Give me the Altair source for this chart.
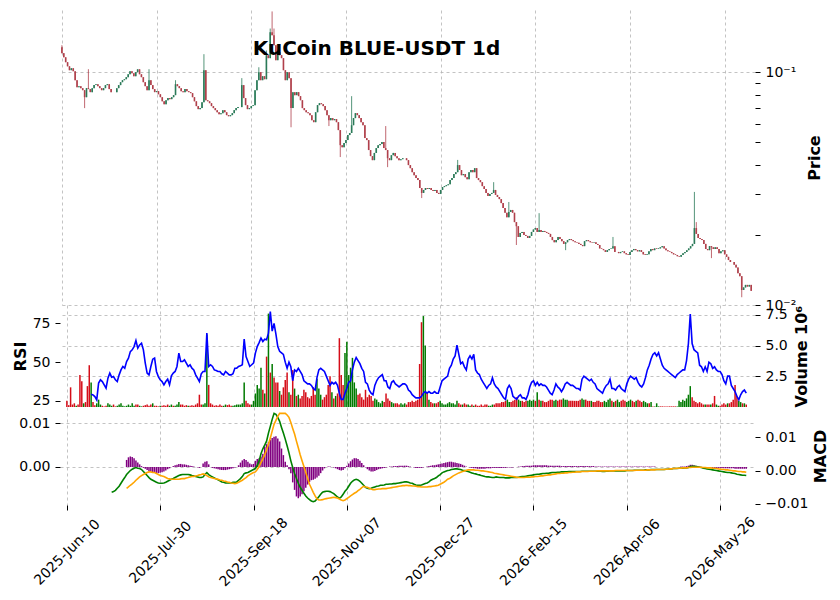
import altair as alt
import pandas as pd

FONT = "DejaVu Sans"

# ---------------- data ----------------
tick_days = [0, 50, 100, 150, 200, 250, 300, 350]
tick_labels = ["2025-Jun-10", "2025-Jul-30", "2025-Sep-18", "2025-Nov-07",
               "2025-Dec-27", "2026-Feb-15", "2026-Apr-06", "2026-May-26"]
title_text = "KuCoin BLUE-USDT 1d"

first_open = 0.128
close = [
    0.1207, 0.1159, 0.1104, 0.1060, 0.1020, 0.1040, 0.1010, 0.0924, 0.0862, 0.0871,
    0.0854, 0.0837, 0.0781, 0.0854, 0.0846, 0.0821, 0.0854, 0.0880, 0.0888, 0.0871,
    0.0854, 0.0837, 0.0854, 0.0880, 0.0888, 0.0846, 0.0821, 0.0821, 0.0821, 0.0854,
    0.0880, 0.0906, 0.0924, 0.0933, 0.0952, 0.0980, 0.1010, 0.0990, 0.0961, 0.1000,
    0.1029, 0.0980, 0.0952, 0.0906, 0.0871, 0.0837, 0.0924, 0.0880, 0.0846, 0.0821,
    0.0829, 0.0804, 0.0781, 0.0750, 0.0728, 0.0758, 0.0774, 0.0766, 0.0781, 0.0797,
    0.0888, 0.0871, 0.0854, 0.0829, 0.0821, 0.0846, 0.0829, 0.0821, 0.0813, 0.0781,
    0.0750, 0.0715, 0.0694, 0.0701, 0.0743, 0.1020, 0.0758, 0.0750, 0.0736, 0.0715,
    0.0701, 0.0687, 0.0673, 0.0660, 0.0667, 0.0687, 0.0673, 0.0654, 0.0647, 0.0654,
    0.0667, 0.0687, 0.0701, 0.0708, 0.0708, 0.0880, 0.0774, 0.0722, 0.0694, 0.0701,
    0.0715, 0.0722, 0.0837, 0.0924, 0.1000, 0.0924, 0.0961, 0.0933, 0.1183, 0.1149,
    0.1485, 0.1441, 0.1306, 0.1126, 0.1218, 0.1183, 0.1149, 0.1020, 0.0924, 0.1000,
    0.0943, 0.0701, 0.0821, 0.0797, 0.0821, 0.0789, 0.0758, 0.0701, 0.0687, 0.0673,
    0.0667, 0.0654, 0.0622, 0.0610, 0.0673, 0.0722, 0.0736, 0.0729, 0.0715, 0.0687,
    0.0654, 0.0622, 0.0635, 0.0622, 0.0629, 0.0610, 0.0564, 0.0486, 0.0476, 0.0496,
    0.0511, 0.0537, 0.0548, 0.0592, 0.0635, 0.0667, 0.0654, 0.0635, 0.0610, 0.0592,
    0.0521, 0.0511, 0.0463, 0.0436, 0.0419, 0.0450, 0.0472, 0.0486, 0.0491, 0.0501,
    0.0472, 0.0463, 0.0427, 0.0419, 0.0440, 0.0450, 0.0436, 0.0427, 0.0419, 0.0423,
    0.0427, 0.0427, 0.0419, 0.0399, 0.0387, 0.0372, 0.0361, 0.0351, 0.0344, 0.0318,
    0.0303, 0.0312, 0.0318, 0.0315, 0.0318, 0.0312, 0.0309, 0.0312, 0.0303, 0.0300,
    0.0312, 0.0321, 0.0324, 0.0327, 0.0330, 0.0344, 0.0351, 0.0365, 0.0372, 0.0399,
    0.0380, 0.0361, 0.0365, 0.0354, 0.0347, 0.0372, 0.0380, 0.0372, 0.0387, 0.0351,
    0.0344, 0.0337, 0.0324, 0.0315, 0.0303, 0.0294, 0.0300, 0.0303, 0.0312, 0.0297,
    0.0291, 0.0285, 0.0274, 0.0261, 0.0249, 0.0238, 0.0251, 0.0256, 0.0249, 0.0227,
    0.0218, 0.0196, 0.0204, 0.0206, 0.0200, 0.0198, 0.0194, 0.0198, 0.0206, 0.0211,
    0.0214, 0.0206, 0.0210, 0.0206, 0.0208, 0.0206, 0.0204, 0.0202, 0.0196, 0.0190,
    0.0186, 0.0190, 0.0196, 0.0192, 0.0188, 0.0183, 0.0186, 0.0190, 0.0192, 0.0190,
    0.0188, 0.0186, 0.0185, 0.0183, 0.0181, 0.0179, 0.0188, 0.0190, 0.0188, 0.0186,
    0.0185, 0.0186, 0.0183, 0.0181, 0.0175, 0.0174, 0.0172, 0.0169, 0.0172, 0.0174,
    0.0175, 0.0179, 0.0169, 0.0169, 0.0167, 0.0169, 0.0170, 0.0167, 0.0165, 0.0164,
    0.0169, 0.0172, 0.0174, 0.0172, 0.0170, 0.0172, 0.0169, 0.0165, 0.0164, 0.0165,
    0.0170, 0.0174, 0.0172, 0.0175, 0.0174, 0.0175, 0.0177, 0.0179, 0.0175, 0.0172,
    0.0170, 0.0169, 0.0167, 0.0165, 0.0164, 0.0162, 0.0161, 0.0164, 0.0167, 0.0169,
    0.0172, 0.0175, 0.0179, 0.0183, 0.0214, 0.0202, 0.0194, 0.0192, 0.0190, 0.0183,
    0.0174, 0.0172, 0.0179, 0.0177, 0.0174, 0.0177, 0.0174, 0.0167, 0.0170, 0.0172,
    0.0165, 0.0161, 0.0156, 0.0153, 0.0153, 0.0149, 0.0145, 0.0137, 0.0133, 0.0116,
    0.0119, 0.0122, 0.0120, 0.0122, 0.0115,
]
# notable wick extremes (day -> price)
wick_high = {0: 0.1306, 14: 0.1030, 46: 0.1030, 60: 0.0924, 75: 0.1195, 95: 0.0943,
             104: 0.1050, 108: 0.1240, 110: 0.1540, 111: 0.1824, 112: 0.1540,
             153: 0.0789, 171: 0.0587, 209: 0.0420, 228: 0.0337, 236: 0.0277,
             252: 0.0248, 291: 0.0196, 334: 0.0306, 335: 0.0227}
wick_low = {12: 0.0701, 121: 0.0580, 141: 0.0587, 147: 0.0432, 172: 0.0391,
            190: 0.0288, 240: 0.0181, 266: 0.0172, 343: 0.0159, 359: 0.0108}

volume_m = [
    0.5, 0.15, 1.6, 0.2, 0.3, 0.1, 0.2, 2.6, 2.1, 0.3,
    0.4, 1.7, 3.4, 2.0, 0.4, 0.15, 0.3, 0.6, 0.2, 0.1,
    0.05, 0.1, 0.3, 0.2, 0.1, 0.2, 0.05, 0.1, 0.2, 0.3,
    0.1, 0.05, 0.1, 0.2, 0.1, 0.3, 0.1, 0.2, 0.2, 0.1,
    0.05, 0.1, 0.15, 0.2, 0.1, 0.2, 0.3, 0.1, 0.1, 0.05,
    0.1, 0.1, 0.15, 0.1, 0.2, 0.1, 0.2, 0.1, 0.1, 0.2,
    0.4, 0.2, 0.2, 0.1, 0.15, 0.1, 0.1, 0.15, 0.1, 0.2,
    0.3, 1.0, 0.2, 0.2, 0.3, 5.9, 1.8, 0.3, 0.2, 0.1,
    0.15, 0.1, 0.2, 0.1, 0.1, 0.2, 0.15, 0.2, 0.1, 0.1,
    0.15, 0.2, 0.2, 0.2, 0.3, 2.0, 0.5, 0.3, 0.2, 0.2,
    0.5, 1.1, 1.8, 1.5, 3.2, 1.4, 1.1, 4.1, 7.6, 2.8,
    3.5, 2.4, 2.0, 2.0, 1.3, 1.0, 1.6, 2.2, 2.8, 1.2,
    1.0, 3.0, 1.5, 0.9, 1.0, 0.7, 0.9, 1.4, 1.2, 0.8,
    0.7, 0.9, 1.6, 1.0, 2.3, 1.5, 1.0, 0.6, 0.8, 1.0,
    1.8, 2.5, 1.2, 0.7, 0.9, 1.1, 5.6, 2.6, 1.8, 4.4,
    5.3, 2.6, 3.2, 4.0, 2.0, 1.5, 1.0, 1.1, 0.8, 0.6,
    1.4, 0.8, 1.0, 0.9, 0.5, 0.7, 0.6, 0.4, 0.3, 0.5,
    0.4, 1.1, 0.7, 0.5, 0.4, 0.3, 0.3, 0.3, 0.2, 0.3,
    0.2, 0.3, 0.2, 0.4, 0.4, 0.5, 0.4, 0.5, 0.6, 3.5,
    6.9, 7.4, 5.0, 1.2, 0.6, 0.4, 0.3, 0.3, 0.3, 0.4,
    0.5, 0.3, 0.2, 0.2, 0.3, 0.4, 0.3, 0.3, 0.2, 0.5,
    0.3, 0.2, 0.2, 0.3, 0.2, 0.2, 0.1, 0.2, 0.1, 0.2,
    0.1, 0.1, 0.2, 0.1, 0.2, 0.2, 0.1, 0.1, 0.2, 0.2,
    0.3, 0.3, 0.3, 0.4, 0.4, 0.5, 0.6, 0.4, 0.4, 0.5,
    0.6, 0.8, 0.6, 0.5, 0.5, 0.4, 0.5, 0.5, 0.6, 0.5,
    0.6, 0.5, 1.2, 0.6, 0.5, 0.5, 0.4, 0.4, 0.5, 0.6,
    0.6, 0.5, 0.6, 0.5, 0.6, 0.6, 0.7, 0.6, 0.6, 0.5,
    0.5, 0.5, 0.5, 0.5, 0.5, 0.6, 0.7, 0.6, 0.6, 0.5,
    0.5, 0.5, 0.4, 0.4, 0.5, 0.5, 0.4, 0.4, 0.5, 0.4,
    0.6, 0.7, 0.5, 0.4, 0.5, 0.6, 0.4, 0.5, 0.6, 0.5,
    0.4, 0.5, 0.6, 0.5, 0.4, 0.5, 0.6, 0.5, 0.4, 0.5,
    0.4, 0.3, 0.3, 0.4, 0.05, 0.05, 0.3, 0.05, 0.05, 0.05,
    0.05, 0.05, 0.05, 0.05, 0.05, 0.05, 0.05, 0.05, 0.5, 0.4,
    0.6, 0.5, 0.7, 1.0, 1.7, 0.8, 0.5, 0.4, 0.3, 0.4,
    0.3, 0.2, 0.2, 0.2, 0.2, 0.2, 0.3, 0.9, 0.2, 0.1,
    0.1, 0.2, 0.3, 0.2, 0.3, 0.3, 0.4, 0.6, 1.8, 0.9,
    0.5, 0.4, 0.3, 0.3, 0.2,
]

rsi = [None] * 13 + [
    29.4, 28.9, 27.8, 25.7, 36.5, 38.6, 37.5,
    35.4, 33.2, 39.7, 42.9, 40.3, 40.7, 38.6, 37.5, 41.8, 45.0,
    47.2, 46.1, 50.4, 52.6, 56.8, 57.9, 60.0, 63.9, 59.0, 61.1,
    62.2, 57.9, 49.4, 42.9, 41.8, 47.2, 51.9, 52.6, 44.0, 40.7,
    38.6, 37.5, 35.4, 37.5, 39.0, 35.4, 41.2, 42.9, 44.0, 47.2,
    55.8, 50.4, 50.4, 51.5, 49.4, 47.2, 48.3, 46.1, 45.0, 41.8,
    39.7, 37.5, 42.5, 44.0, 44.0, 68.7, 47.2, 48.3, 47.2, 45.0,
    44.6, 44.0, 44.0, 42.5, 41.8, 44.0, 42.9, 41.8, 41.8, 42.5,
    46.1, 46.1, 47.2, 47.6, 48.3, 64.8, 53.6, 50.4, 47.2, 48.3,
    49.4, 55.8, 60.0, 62.6, 65.5, 63.3, 64.8, 64.4, 68.7, 82.6,
    70.0, 75.0, 68.0, 60.0, 57.0, 56.0, 55.0, 50.0, 46.0, 50.0,
    47.0, 38.0, 45.0, 44.0, 46.0, 44.0, 42.0, 38.0, 37.0, 36.0,
    36.0, 35.0, 33.0, 32.0, 40.0, 45.0, 46.0, 45.0, 44.0, 41.0,
    38.0, 35.0, 37.0, 36.0, 37.0, 35.0, 30.0, 26.0, 26.0, 30.0,
    33.0, 37.0, 38.0, 45.0, 50.0, 53.0, 51.0, 49.0, 46.0, 44.0,
    37.0, 36.0, 32.0, 30.0, 29.0, 35.0, 38.0, 40.0, 41.0, 42.0,
    38.0, 38.0, 34.0, 33.0, 37.0, 38.0, 36.0, 35.0, 34.0, 35.0,
    36.0, 36.0, 35.0, 32.0, 31.0, 29.0, 28.0, 27.0, 27.0, 27.0,
    28.0, 30.0, 31.0, 30.0, 31.0, 30.0, 30.0, 31.0, 30.0, 30.0,
    34.0, 38.0, 39.0, 40.0, 41.0, 46.0, 48.0, 52.0, 54.0, 61.0,
    55.0, 49.0, 50.0, 47.0, 45.0, 52.0, 54.0, 52.0, 55.0, 45.0,
    43.0, 42.0, 39.0, 37.0, 35.0, 33.0, 35.0, 36.0, 40.0, 36.0,
    34.0, 33.0, 31.0, 29.0, 27.0, 26.0, 33.0, 35.0, 33.0, 28.0,
    27.0, 26.0, 28.0, 29.0, 27.0, 27.0, 26.0, 29.0, 34.0, 37.0,
    38.0, 35.0, 37.0, 35.0, 36.0, 35.0, 35.0, 34.0, 32.0, 30.0,
    29.0, 32.0, 36.0, 34.0, 33.0, 31.0, 33.0, 36.0, 37.0, 36.0,
    35.0, 35.0, 34.0, 33.0, 33.0, 32.0, 39.0, 41.0, 40.0, 39.0,
    38.0, 39.0, 37.0, 36.0, 33.0, 32.0, 31.0, 30.0, 33.0, 35.0,
    36.0, 39.0, 33.0, 33.0, 32.0, 34.0, 35.0, 33.0, 32.0, 31.0,
    36.0, 39.0, 41.0, 40.0, 39.0, 40.0, 37.0, 35.0, 34.0, 36.0,
    40.0, 45.0, 48.0, 52.0, 55.0, 56.0, 54.0, 56.0, 52.0, 48.0,
    46.0, 45.0, 44.0, 43.0, 42.0, 41.0, 40.0, 42.0, 43.0, 44.0,
    45.0, 45.0, 51.0, 62.0, 81.0, 62.0, 58.0, 57.0, 56.0, 48.0,
    47.0, 44.0, 47.0, 44.0, 50.0, 49.0, 46.0, 47.0, 45.0, 44.0,
    44.0, 42.0, 38.0, 36.0, 41.0, 41.0, 35.0, 33.0, 31.0, 28.0,
    25.7, 29.0, 31.0, 32.0, 30.0,
]

macd = [None] * 24 + [
    -0.0065, -0.0063, -0.0059, -0.0053, -0.0047, -0.0038,
    -0.0029, -0.0021, -0.0012, -0.0006, 0.0000, 0.0004, 0.0007, 0.0009, 0.0007, 0.0006,
    0.0003, -0.0003, -0.0009, -0.0015, -0.0021, -0.0026, -0.0029, -0.0032, -0.0035, -0.0037,
    -0.0038, -0.0038, -0.0037, -0.0035, -0.0032, -0.0029, -0.0026, -0.0024, -0.0021, -0.0018,
    -0.0015, -0.0013, -0.0012, -0.0012, -0.0012, -0.0012, -0.0013, -0.0015, -0.0016, -0.0018,
    -0.0019, -0.0021, -0.0021, -0.0019, -0.0012, -0.0006, -0.0012, -0.0016, -0.0019, -0.0022,
    -0.0025, -0.0028, -0.0031, -0.0034, -0.0035, -0.0037, -0.0037, -0.0037, -0.0037, -0.0035,
    -0.0035, -0.0034, -0.0029, -0.0024, -0.0018, -0.0009, -0.0007, -0.0006, -0.0003, 0.0000,
    0.0003, 0.0006, 0.0015, 0.0029, 0.0050, 0.0065, 0.0076, 0.0088, 0.0112, 0.0132,
    0.0153, 0.0171, 0.0168, 0.0159, 0.0147, 0.0129, 0.0112, 0.0094, 0.0074, 0.0053,
    0.0029, 0.0009, -0.0009, -0.0024, -0.0038, -0.0050, -0.0059, -0.0068, -0.0076, -0.0082,
    -0.0087, -0.0091, -0.0093, -0.0091, -0.0085, -0.0078, -0.0071, -0.0065, -0.0063, -0.0062,
    -0.0062, -0.0063, -0.0066, -0.0069, -0.0074, -0.0079, -0.0083, -0.0079, -0.0071, -0.0062,
    -0.0056, -0.0047, -0.0038, -0.0032, -0.0028, -0.0026, -0.0028, -0.0032, -0.0038, -0.0044,
    -0.0050, -0.0053, -0.0054, -0.0053, -0.0051, -0.0049, -0.0047, -0.0046, -0.0044, -0.0044,
    -0.0043, -0.0041, -0.0041, -0.0040, -0.0040, -0.0039, -0.0039, -0.0038, -0.0037, -0.0036,
    -0.0035, -0.0034, -0.0034, -0.0035, -0.0037, -0.0038, -0.0041, -0.0043, -0.0044, -0.0044,
    -0.0043, -0.0041, -0.0039, -0.0037, -0.0034, -0.0029, -0.0026, -0.0024, -0.0021, -0.0016,
    -0.0012, -0.0007, -0.0004, -0.0002, 0.0000, 0.0001, 0.0003, 0.0004, 0.0005, 0.0005,
    0.0004, 0.0003, 0.0001, 0.0000, -0.0001, -0.0003, -0.0005, -0.0007, -0.0009, -0.0010,
    -0.0012, -0.0013, -0.0015, -0.0016, -0.0018, -0.0019, -0.0019, -0.0020, -0.0021, -0.0021,
    -0.0019, -0.0020, -0.0021, -0.0021, -0.0021, -0.0022, -0.0022, -0.0022, -0.0021, -0.0021,
    -0.0021, -0.0021, -0.0020, -0.0019, -0.0018, -0.0018, -0.0017, -0.0016, -0.0015, -0.0014,
    -0.0013, -0.0012, -0.0011, -0.0011, -0.0010, -0.0009, -0.0009, -0.0008, -0.0008, -0.0007,
    -0.0006, -0.0006, -0.0006, -0.0005, -0.0005, -0.0004, -0.0004, -0.0004, -0.0004, -0.0003,
    -0.0003, -0.0003, -0.0003, -0.0003, -0.0003, -0.0003, -0.0002, -0.0002, -0.0002, -0.0002,
    -0.0002, -0.0002, -0.0002, -0.0002, -0.0002, -0.0002, -0.0002, -0.0003, -0.0003, -0.0002,
    -0.0002, -0.0001, -0.0001, -0.0001, -0.0001, -0.0001, -0.0001, -0.0001, -0.0001, -0.0001,
    0.0000, 0.0000, 0.0000, 0.0000, 0.0001, 0.0001, 0.0001, 0.0001, 0.0001, 0.0001,
    0.0002, 0.0002, 0.0002, 0.0003, 0.0003, 0.0003, 0.0003, 0.0003, 0.0003, 0.0003,
    0.0003, 0.0004, 0.0004, 0.0005, 0.0005, 0.0006, 0.0006, 0.0006, 0.0007, 0.0007,
    0.0007, 0.0008, 0.0008, 0.0009, 0.0012, 0.0013, 0.0013, 0.0012, 0.0011, 0.0010,
    0.0009, 0.0007, 0.0006, 0.0005, 0.0004, 0.0003, 0.0002, 0.0001, 0.0000, -0.0001,
    -0.0002, -0.0003, -0.0004, -0.0005, -0.0006, -0.0006, -0.0007, -0.0008, -0.0009, -0.0011,
    -0.0012, -0.0013, -0.0014, -0.0014, -0.0015,
]

signal = [None] * 32 + [
    -0.0053, -0.0049, -0.0044, -0.0040, -0.0035, -0.0029, -0.0024, -0.0019,
    -0.0015, -0.0012, -0.0009, -0.0006, -0.0004, -0.0004, -0.0006, -0.0006, -0.0009, -0.0012,
    -0.0015, -0.0016, -0.0018, -0.0021, -0.0024, -0.0025, -0.0026, -0.0026, -0.0026, -0.0026,
    -0.0026, -0.0025, -0.0024, -0.0024, -0.0022, -0.0021, -0.0019, -0.0018, -0.0018, -0.0016,
    -0.0015, -0.0013, -0.0012, -0.0010, -0.0012, -0.0015, -0.0019, -0.0021, -0.0022, -0.0024,
    -0.0025, -0.0026, -0.0028, -0.0029, -0.0031, -0.0032, -0.0034, -0.0035, -0.0037, -0.0038,
    -0.0039, -0.0038, -0.0035, -0.0032, -0.0029, -0.0025, -0.0021, -0.0016, -0.0012, -0.0009,
    -0.0006, -0.0004, 0.0003, 0.0012, 0.0024, 0.0035, 0.0047, 0.0062, 0.0079, 0.0097,
    0.0118, 0.0138, 0.0150, 0.0162, 0.0171, 0.0171, 0.0171, 0.0171, 0.0166, 0.0159,
    0.0144, 0.0126, 0.0109, 0.0088, 0.0068, 0.0047, 0.0029, 0.0012, -0.0006, -0.0024,
    -0.0041, -0.0053, -0.0065, -0.0076, -0.0085, -0.0088, -0.0088, -0.0087, -0.0085, -0.0084,
    -0.0083, -0.0082, -0.0081, -0.0080, -0.0081, -0.0082, -0.0085, -0.0088, -0.0090, -0.0088,
    -0.0084, -0.0080, -0.0076, -0.0072, -0.0068, -0.0065, -0.0060, -0.0056, -0.0051, -0.0047,
    -0.0049, -0.0050, -0.0053, -0.0055, -0.0057, -0.0057, -0.0056, -0.0055, -0.0055, -0.0054,
    -0.0054, -0.0054, -0.0053, -0.0052, -0.0051, -0.0050, -0.0049, -0.0048, -0.0047, -0.0046,
    -0.0045, -0.0045, -0.0044, -0.0045, -0.0045, -0.0046, -0.0046, -0.0047, -0.0048, -0.0048,
    -0.0049, -0.0049, -0.0049, -0.0049, -0.0048, -0.0048, -0.0047, -0.0046, -0.0045, -0.0044,
    -0.0041, -0.0038, -0.0035, -0.0031, -0.0026, -0.0024, -0.0020, -0.0016, -0.0013, -0.0010,
    -0.0007, -0.0005, -0.0003, -0.0001, 0.0001, 0.0002, 0.0002, 0.0002, 0.0002, 0.0001,
    0.0001, 0.0000, -0.0001, -0.0001, -0.0002, -0.0003, -0.0004, -0.0005, -0.0006, -0.0008,
    -0.0009, -0.0010, -0.0011, -0.0012, -0.0013, -0.0014, -0.0015, -0.0016, -0.0017, -0.0018,
    -0.0019, -0.0020, -0.0021, -0.0021, -0.0021, -0.0021, -0.0020, -0.0020, -0.0020, -0.0019,
    -0.0019, -0.0018, -0.0018, -0.0017, -0.0016, -0.0016, -0.0015, -0.0014, -0.0013, -0.0013,
    -0.0012, -0.0011, -0.0010, -0.0009, -0.0009, -0.0008, -0.0008, -0.0007, -0.0007, -0.0006,
    -0.0006, -0.0005, -0.0005, -0.0004, -0.0004, -0.0004, -0.0003, -0.0003, -0.0003, -0.0003,
    -0.0002, -0.0002, -0.0002, -0.0002, -0.0001, -0.0001, -0.0001, -0.0001, -0.0001, -0.0001,
    -0.0001, -0.0001, -0.0001, -0.0001, 0.0000, 0.0000, 0.0000, 0.0000, 0.0000, 0.0000,
    0.0000, 0.0000, 0.0000, 0.0000, 0.0000, 0.0001, 0.0001, 0.0001, 0.0001, 0.0001,
    0.0001, 0.0002, 0.0002, 0.0002, 0.0002, 0.0002, 0.0003, 0.0003, 0.0003, 0.0003,
    0.0003, 0.0004, 0.0004, 0.0005, 0.0005, 0.0006, 0.0006, 0.0007, 0.0007, 0.0007,
    0.0008, 0.0008, 0.0008, 0.0009, 0.0009, 0.0010, 0.0010, 0.0010, 0.0010, 0.0010,
    0.0010, 0.0009, 0.0009, 0.0008, 0.0008, 0.0008, 0.0007, 0.0007, 0.0006, 0.0005,
    0.0004, 0.0004, 0.0003, 0.0002, 0.0002, 0.0001, 0.0000, -0.0001, -0.0001, -0.0002,
    -0.0003, -0.0003, -0.0004, -0.0004, -0.0005,
]

hist = [None] * 32 + [
    0.0016, 0.0022, 0.0024, 0.0023, 0.0020, 0.0015, 0.0010, 0.0006,
    0.0002, -0.0002, -0.0004, -0.0007, -0.0009, -0.0011, -0.0012, -0.0013, -0.0014, -0.0014,
    -0.0013, -0.0012, -0.0010, -0.0008, -0.0005, -0.0003, 0.0000, 0.0002, 0.0004, 0.0005,
    0.0007, 0.0007, 0.0006, 0.0006, 0.0005, 0.0004, 0.0003, 0.0002, 0.0001, 0.0000,
    -0.0001, -0.0002, 0.0000, 0.0008, 0.0012, 0.0013, 0.0006, 0.0000, -0.0002, -0.0003,
    -0.0004, -0.0005, -0.0006, -0.0007, -0.0007, -0.0007, -0.0006, -0.0005, -0.0004, -0.0003,
    -0.0001, 0.0000, 0.0004, 0.0010, 0.0015, 0.0018, 0.0016, 0.0012, 0.0008, 0.0006,
    0.0007, 0.0014, 0.0018, 0.0020, 0.0024, 0.0030, 0.0046, 0.0052, 0.0057, 0.0062,
    0.0066, 0.0069, 0.0070, 0.0065, 0.0058, 0.0042, 0.0027, 0.0012, 0.0004, -0.0005,
    -0.0014, -0.0035, -0.0052, -0.0067, -0.0071, -0.0067, -0.0062, -0.0055, -0.0047, -0.0040,
    -0.0034, -0.0030, -0.0029, -0.0027, -0.0024, -0.0020, -0.0014, -0.0008, -0.0003, 0.0000,
    0.0001, 0.0001, 0.0000, -0.0001, -0.0003, -0.0005, -0.0007, -0.0008, -0.0007, -0.0003,
    0.0003, 0.0008, 0.0013, 0.0017, 0.0020, 0.0020, 0.0018, 0.0014, 0.0009, 0.0004,
    -0.0001, -0.0005, -0.0008, -0.0010, -0.0010, -0.0009, -0.0007, -0.0005, -0.0004, -0.0003,
    -0.0002, -0.0001, 0.0000, 0.0001, 0.0001, 0.0002, 0.0002, 0.0002, 0.0003, 0.0003,
    0.0003, 0.0003, 0.0003, 0.0002, 0.0001, 0.0000, -0.0001, -0.0002, -0.0002, -0.0002,
    -0.0002, -0.0001, 0.0000, 0.0001, 0.0002, 0.0003, 0.0004, 0.0004, 0.0005, 0.0006,
    0.0007, 0.0008, 0.0009, 0.0010, 0.0011, 0.0012, 0.0012, 0.0011, 0.0010, 0.0009,
    0.0008, 0.0007, 0.0005, 0.0003, 0.0001, 0.0000, -0.0001, -0.0002, -0.0003, -0.0003,
    -0.0004, -0.0004, -0.0004, -0.0004, -0.0004, -0.0003, -0.0003, -0.0003, -0.0002, -0.0002,
    -0.0002, -0.0002, -0.0002, -0.0002, -0.0002, -0.0002, -0.0001, -0.0001, -0.0001, -0.0001,
    0.0000, 0.0000, 0.0001, 0.0001, 0.0002, 0.0002, 0.0003, 0.0003, 0.0003, 0.0003,
    0.0004, 0.0004, 0.0004, 0.0004, 0.0004, 0.0004, 0.0004, 0.0004, 0.0003, 0.0003,
    0.0003, 0.0003, 0.0003, 0.0003, 0.0003, 0.0002, 0.0002, 0.0002, 0.0002, 0.0002,
    0.0002, 0.0002, 0.0002, 0.0002, 0.0002, 0.0002, 0.0002, 0.0002, 0.0002, 0.0002,
    0.0002, 0.0002, 0.0002, 0.0001, 0.0001, 0.0001, 0.0001, 0.0001, 0.0001, 0.0001,
    0.0001, 0.0001, 0.0001, 0.0001, 0.0001, 0.0001, 0.0001, 0.0001, 0.0001, 0.0001,
    0.0001, 0.0001, 0.0001, 0.0001, 0.0001, 0.0001, 0.0001, 0.0001, 0.0001, 0.0001,
    0.0001, 0.0001, 0.0001, 0.0001, 0.0001, 0.0001, 0.0000, 0.0000, 0.0000, 0.0000,
    0.0000, 0.0000, 0.0000, 0.0000, 0.0000, 0.0000, 0.0000, 0.0000, 0.0000, 0.0001,
    0.0001, 0.0001, 0.0002, 0.0003, 0.0005, 0.0005, 0.0004, 0.0003, 0.0002, 0.0001,
    0.0000, -0.0001, -0.0001, -0.0001, -0.0001, -0.0001, -0.0002, -0.0002, -0.0002, -0.0002,
    -0.0002, -0.0002, -0.0003, -0.0003, -0.0003, -0.0003, -0.0003, -0.0003, -0.0004, -0.0004,
    -0.0004, -0.0004, -0.0004, -0.0004, -0.0004,
]

n = len(close)
for name, arr in [("volume", volume_m), ("rsi", rsi), ("macd", macd),
                  ("signal", signal), ("hist", hist)]:
    assert len(arr) == n, f"{name} has {len(arr)} values, expected {n}"

opens = [first_open] + close[:-1]
highs = [max(o, c, wick_high.get(i, 0.0)) for i, (o, c) in enumerate(zip(opens, close))]
lows = [min(o, c, wick_low.get(i, 1.0)) for i, (o, c) in enumerate(zip(opens, close))]
direction = ["up" if c >= o else "down" for o, c in zip(opens, close)]

df = pd.DataFrame({
    "idx": list(range(n)), "open": opens, "high": highs, "low": lows,
    "close": close, "volume": volume_m, "rsi": rsi, "macd": macd,
    "signal": signal, "hist": hist, "dir": direction,
})

# ---------------- styling ----------------
W = 695
GRID = dict(gridColor="#b4b4b4", gridDash=[3, 3], gridWidth=0.8)
TICK = dict(tickSize=5, labelPadding=5)
CANDLE_UP, CANDLE_DOWN = "#2a7a58", "#b0404b"
VOL_UP, VOL_DOWN = "#007a00", "#d50d18"

x_label_expr = " : ".join(
    f"datum.value == {d} ? '{lab}'" for d, lab in zip(tick_days, tick_labels)
) + " : ''"
xscale = alt.Scale(domain=[-1, 366], nice=False, zero=False)


def x_enc(with_labels):
    if with_labels:
        ax = alt.Axis(values=tick_days, labelExpr=x_label_expr, labelAngle=315,
                      labelAlign="center", labelBaseline="middle", labelPadding=42,
                      labelFlush=False, labelBound=False, labelOverlap=False,
                      tickSize=5, ticks=True, domain=False, grid=True, title=None,
                      **GRID)
    else:
        ax = alt.Axis(values=tick_days, labels=False, ticks=False, domain=False,
                      grid=True, title=None, **GRID)
    return alt.X("idx:Q", scale=xscale, axis=ax)


def updown(up, down):
    return alt.condition("datum.dir == 'up'", alt.value(up), alt.value(down))


# ---------------- price panel ----------------
price_ticks = [0.01, 0.02, 0.03, 0.04, 0.05, 0.06, 0.07, 0.08, 0.09, 0.1]
price_axis = alt.Axis(
    orient="right", values=price_ticks,
    labelExpr="datum.value == 0.1 ? '10⁻¹' : (datum.value == 0.01 ? '10⁻²' : '')",
    title="Price", titleAngle=270, titleBaseline="top", titlePadding=11,
    grid=True, **TICK,
    gridOpacity={"condition": {"test": "datum.value == 0.1 || datum.value == 0.01",
                               "value": 1}, "value": 0},
    gridColor="#b4b4b4", gridDash=[3, 3], gridWidth=0.8,
)
pscale = alt.Scale(type="log", domain=[0.01, 0.185], nice=False)

wicks = alt.Chart(df).mark_rule(strokeWidth=0.8).encode(
    x=x_enc(False),
    y=alt.Y("low:Q", scale=pscale, axis=price_axis),
    y2="high:Q",
    color=updown(CANDLE_UP, CANDLE_DOWN),
)
bodies = alt.Chart(df).mark_rule(strokeWidth=1.6).encode(
    x=x_enc(False),
    y=alt.Y("open:Q", scale=pscale, axis=price_axis),
    y2="close:Q",
    color=updown(CANDLE_UP, CANDLE_DOWN),
)
price = alt.layer(wicks, bodies).properties(
    width=W, height=295,
    title=alt.TitleParams(title_text, font=FONT, fontSize=20,
                          fontWeight="bold", color="black", anchor="middle",
                          dx=-31, offset=0, dy=69, baseline="bottom"),
)

# ---------------- volume + RSI panel ----------------
vol = alt.Chart(df).mark_bar(size=1.5).encode(
    x=x_enc(False),
    y=alt.Y("volume:Q", scale=alt.Scale(domain=[0, 8.3], nice=False),
            axis=alt.Axis(orient="right", values=[2.5, 5.0, 7.5], format=".1f",
                          title="Volume  10⁶", titleAngle=270, titleBaseline="top",
                          titlePadding=6, **TICK, **GRID)),
    color=updown(VOL_UP, VOL_DOWN),
)
rsi_line = alt.Chart(df).mark_line(color="#0000ff", strokeWidth=1.6).encode(
    x=x_enc(False),
    y=alt.Y("rsi:Q", scale=alt.Scale(domain=[21.1, 86.8], nice=False),
            axis=alt.Axis(orient="left", values=[25, 50, 75], title="RSI",
                          titlePadding=4, **TICK, **GRID)),
)
mid = alt.layer(vol, rsi_line).resolve_scale(y="independent").properties(
    width=W, height=102)

# ---------------- MACD panel ----------------
hist_bars = alt.Chart(df).mark_bar(size=1.5, color="#800080").encode(
    x=x_enc(True),
    y=alt.Y("hist:Q", scale=alt.Scale(domain=[-0.00864, 0.01364], nice=False),
            axis=alt.Axis(orient="left", values=[-0.01, 0.0, 0.01], format=".2f",
                          title=None, **TICK, **GRID)),
)
macd_lines = alt.Chart(df).transform_fold(
    ["macd", "signal"], as_=["series", "value"]
).mark_line(strokeWidth=1.6).encode(
    x=x_enc(True),
    y=alt.Y("value:Q", scale=alt.Scale(domain=[-0.0103, 0.0190], nice=False),
            axis=alt.Axis(orient="right", values=[-0.01, 0.0, 0.01], format=".2f",
                          title="MACD", titleAngle=270, titleBaseline="top",
                          titlePadding=5, **TICK, **GRID)),
    color=alt.Color("series:N", scale=alt.Scale(domain=["macd", "signal"],
                                                range=["#008000", "#ffa500"]),
                    legend=None),
)
low = alt.layer(hist_bars, macd_lines).resolve_scale(y="independent").properties(
    width=W, height=98)

chart = alt.vconcat(price, mid, low, spacing=0, bounds="flush").properties(
    padding={"left": 12, "top": 10, "right": 5, "bottom": 5},
    background="white",
).configure_view(stroke=None).configure_axis(
    labelFont=FONT, titleFont=FONT, labelFontSize=14, titleFontSize=16,
    titleFontWeight="bold", labelColor="black", titleColor="black",
    tickColor="black", domain=False,
)

chart.save("out.html", embed_options={"renderer": "svg", "actions": False})
